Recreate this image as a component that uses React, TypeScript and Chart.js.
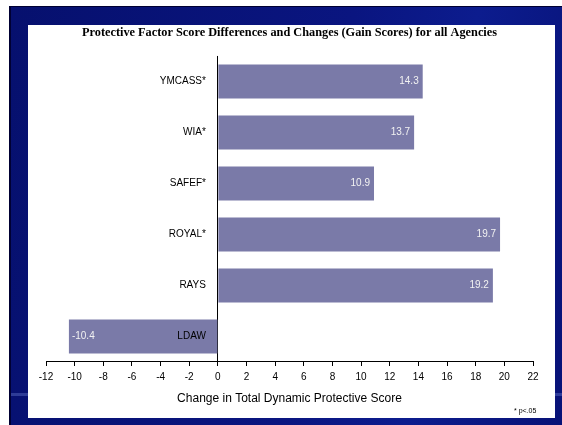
import React, { useEffect, useRef } from "react";
import { Chart, registerables } from "chart.js";

Chart.register(...registerables);

const categories = ["YMCASS*", "WIA*", "SAFEF*", "ROYAL*", "RAYS", "LDAW"];
const gainScores = [14.3, 13.7, 10.9, 19.7, 19.2, -10.4];
const xMin = -12;
const xMax = 22;
const xStep = 2;
const chartTitle = "Protective Factor Score Differences and Changes (Gain Scores) for all Agencies";
const xTitle = "Change in Total Dynamic Protective Score";
const footnote = "* p<.05";

const SANS = "'Liberation Sans', Arial, sans-serif";
const SERIF = "'Liberation Serif', 'Times New Roman', serif";

const labelPlugin = {
  id: "barLabels",
  afterDatasetsDraw(chart: any) {
    const { ctx, scales } = chart;
    const xs = scales.x;
    const ys = scales.y;
    const zero = xs.getPixelForValue(0);
    ctx.save();
    ctx.textBaseline = "middle";
    categories.forEach((cat, i) => {
      const y = ys.getPixelForValue(i);
      const v = gainScores[i];
      const end = xs.getPixelForValue(v);
      ctx.font = `10px ${SANS}`;
      ctx.fillStyle = "#f2f2f2";
      if (v >= 0) {
        ctx.textAlign = "right";
        ctx.fillText(v.toFixed(1), end - 4, y);
      } else {
        ctx.textAlign = "left";
        ctx.fillText(v.toFixed(1), end + 3, y);
      }
      ctx.fillStyle = "#000";
      ctx.textAlign = "right";
      ctx.fillText(cat, zero - 12, y);
    });
    ctx.font = `7px ${SANS}`;
    ctx.fillStyle = "#000";
    ctx.textAlign = "left";
    ctx.fillText(footnote, 514, 411);
    ctx.restore();
  },
};

export default function App() {
  const ref = useRef<HTMLCanvasElement | null>(null);

  useEffect(() => {
    if (!ref.current) return;
    const chart = new Chart(ref.current, {
      type: "bar",
      data: {
        labels: categories,
        datasets: [
          {
            data: gainScores,
            backgroundColor: "#7a7aa8",
            borderWidth: 0,
            barPercentage: 0.667,
            categoryPercentage: 1,
          },
        ],
      },
      options: {
        indexAxis: "y",
        animation: false,
        responsive: false,
        devicePixelRatio: 1,
        layout: { padding: { left: 46, right: 29, top: 20, bottom: 14.8 } },
        plugins: {
          legend: { display: false },
          tooltip: { enabled: false },
          title: {
            display: true,
            text: chartTitle,
            color: "#000",
            font: { family: SERIF, size: 12.3, weight: "bold" },
            padding: { top: 5.3, bottom: 15.9 },
          },
        },
        scales: {
          y: {
            type: "category",
            display: false,
          },
          x: {
            type: "linear",
            min: xMin,
            max: xMax,
            ticks: {
              stepSize: xStep,
              color: "#000",
              font: { family: SANS, size: 10 },
              padding: 5,
              maxRotation: 0,
              autoSkip: false,
            },
            grid: {
              drawOnChartArea: true,
              drawTicks: true,
              tickLength: 4,
              tickColor: "#000",
              color: (c: any) => (c.tick && c.tick.value === 0 ? "#000" : "rgba(0,0,0,0)"),
              lineWidth: 1,
            },
            border: { display: true, color: "#000", width: 1 },
            title: {
              display: true,
              text: xTitle,
              color: "#000",
              font: { family: SANS, size: 12 },
              padding: { top: 3.8, bottom: 4 },
            },
          },
        },
      },
      plugins: [labelPlugin],
    });
    return () => chart.destroy();
  }, []);

  return (
    <div style={{ position: "fixed", left: 0, top: 0, width: 562, height: 425, background: "#ffffff", overflow: "hidden" }}>
      <div
        style={{
          position: "absolute",
          left: 9,
          top: 6,
          right: 0,
          bottom: 0,
          background: "linear-gradient(100deg, #06106e 0%, #0a1580 55%, #0c1c8e 75%, #081277 100%)",
          borderLeft: "2px solid #000033",
          borderTop: "1px solid #000033",
        }}
      >
        <div style={{ position: "absolute", left: 0, right: 0, top: 386, height: 3, background: "rgba(120,140,220,0.35)" }} />
      </div>
      <div style={{ position: "absolute", left: 28, top: 25, width: 527, height: 393, background: "#ffffff" }} />
      <canvas ref={ref} width={562} height={425} style={{ position: "absolute", left: 0, top: 0 }} />
    </div>
  );
}
